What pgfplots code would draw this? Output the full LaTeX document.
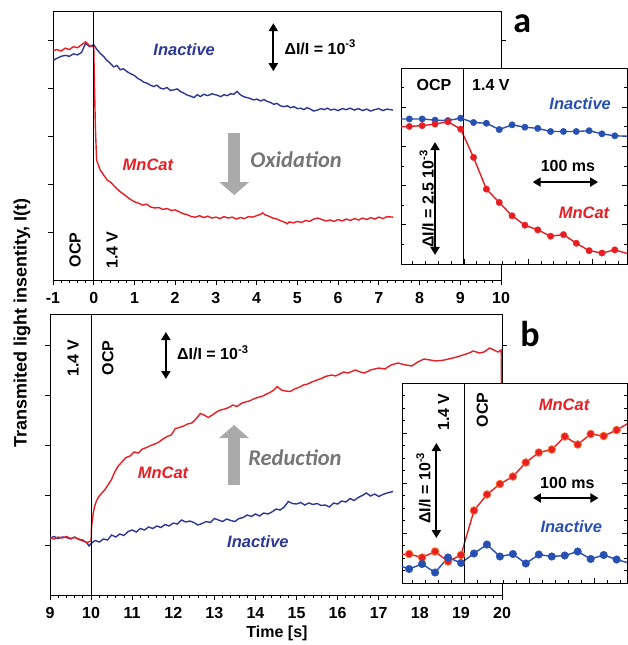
\documentclass[border=0pt]{standalone}
\usepackage{fontspec}
\setmainfont{Liberation Sans}
\newfontfamily\calibri{Carlito}
\usepackage{pgfplots}
\pgfplotsset{compat=1.18}
\usetikzlibrary{arrows.meta}
\definecolor{mred}{RGB}{232,30,36}
\definecolor{mblue}{RGB}{44,56,150}
\definecolor{iblue}{RGB}{40,80,178}
\definecolor{orng}{RGB}{245,110,40}
\definecolor{garrow}{RGB}{170,170,170}
\definecolor{gtext}{RGB}{118,118,118}
\newcommand\lab{\fontsize{16}{18}\selectfont\bfseries}
\newcommand\labi{\fontsize{16.5}{18}\selectfont\bfseries\itshape}
\newcommand\clb{\fontsize{22.5}{24}\selectfont\calibri\bfseries\itshape}
\tikzset{dbl/.style={line width=2pt,{Triangle[width=9pt,length=8pt]}-{Triangle[width=9pt,length=8pt]}},
 garr/.style={garrow,line width=12pt,-{Triangle[width=29pt,length=13pt]}}}
\pgfplotsset{
 mainax/.style={scale only axis, anchor=south west, clip=false,
  xtick pos=lower, ytick pos=both, tick align=outside,
  major tick length=5pt, minor tick length=3pt,
  tick style={black,line width=0.8pt}, axis line style={line width=0.9pt},
  minor x tick num=4, ytick={1,...,5}, yticklabels={},
  xticklabel style={font=\fontsize{16}{16}\selectfont\bfseries, yshift=-4pt},
  /pgf/number format/assume math mode=true},
 insax/.style={scale only axis, anchor=south west, clip=true,
  axis background/.style={fill=white},
  xtick pos=lower, ytick pos=both, tick align=inside,
  major tick length=5pt, minor tick length=3pt,
  tick style={black,line width=0.7pt}, axis line style={line width=0.9pt},
  xtick={0,100,200}, minor xtick={-80,-60,-40,-20,20,40,60,80,120,140,160,180,220,240},
  xticklabels={}, yticklabels={}},
 redl/.style={mred, line width=1.4pt, no marks},
 bluel/.style={mblue, line width=1.4pt, no marks}
}
\begin{document}
\begin{tikzpicture}
\useasboundingbox (0pt,0pt) rectangle (628pt,-645pt);
% ---------------- panel a main
\begin{axis}[mainax, at={(53pt,-280pt)}, width=448pt, height=269pt,
  xmin=-1, xmax=10, ymin=0, ymax=5.604, xtick={-1,...,10}]
\addplot[bluel] coordinates {
(-1.0,4.57)(-0.9,4.62)(-0.8,4.66)(-0.7,4.68)(-0.6,4.66)(-0.5,4.71)(-0.4,4.69)(-0.3,4.74)(-0.2,4.93)(-0.1,4.86)(0.0,4.90)
(0.08,4.80)(0.16,4.72)(0.24,4.66)(0.32,4.58)(0.4,4.52)(0.49,4.44)(0.57,4.47)(0.65,4.38)(0.73,4.40)(0.82,4.34)(0.9,4.30)(1.0,4.26)
(1.08,4.20)(1.15,4.17)(1.23,4.12)(1.31,4.10)(1.39,4.06)(1.47,4.03)(1.55,4.06)(1.63,4.00)(1.71,3.98)(1.8,4.01)(1.88,3.95)(1.96,3.96)
(2.05,3.98)(2.14,3.92)(2.22,3.89)(2.3,3.85)(2.38,3.83)(2.46,3.80)(2.54,3.86)(2.62,3.82)(2.7,3.87)(2.8,3.84)(2.9,3.88)(3.03,3.85)
(3.12,3.82)(3.2,3.86)(3.28,3.84)(3.36,3.88)(3.44,3.87)(3.52,3.93)(3.6,3.86)(3.68,3.82)(3.76,3.80)(3.85,3.78)(3.93,3.75)(4.0,3.77)
(4.1,3.73)(4.18,3.76)(4.26,3.72)(4.34,3.70)(4.42,3.66)(4.5,3.68)(4.58,3.63)(4.67,3.61)(4.75,3.63)(4.83,3.59)(4.92,3.61)(5.0,3.57)
(5.08,3.58)(5.16,3.55)(5.24,3.59)(5.32,3.56)(5.4,3.52)(5.49,3.54)(5.58,3.57)(5.66,3.55)(5.74,3.58)(5.82,3.54)(5.9,3.56)(6.0,3.53)
(6.1,3.57)(6.2,3.55)(6.3,3.58)(6.4,3.54)(6.5,3.57)(6.6,3.53)(6.7,3.56)(6.8,3.52)(6.9,3.55)(7.0,3.57)(7.1,3.53)(7.2,3.56)(7.35,3.54)};
\addplot[redl] coordinates {
(-1.0,4.78)(-0.9,4.80)(-0.8,4.77)(-0.7,4.83)(-0.6,4.80)(-0.5,4.86)(-0.4,4.84)(-0.3,4.90)(-0.2,4.96)(-0.1,4.88)(0.0,4.86)
(0.02,4.0)(0.04,3.2)(0.07,2.5)(0.12,2.38)(0.16,2.29)(0.25,2.18)(0.33,2.08)(0.41,2.04)(0.49,1.97)(0.57,1.90)(0.65,1.84)(0.73,1.79)
(0.82,1.73)(0.9,1.68)(1.0,1.63)(1.1,1.60)(1.2,1.56)(1.3,1.58)(1.4,1.52)(1.5,1.50)(1.6,1.51)(1.7,1.47)(1.8,1.49)(1.9,1.45)
(2.0,1.46)(2.1,1.42)(2.2,1.38)(2.3,1.36)(2.4,1.32)(2.5,1.31)(2.6,1.34)(2.7,1.30)(2.8,1.33)(2.9,1.29)(3.0,1.31)(3.1,1.28)
(3.2,1.32)(3.3,1.29)(3.4,1.31)(3.5,1.27)(3.6,1.30)(3.7,1.28)(3.8,1.32)(3.9,1.31)(4.0,1.34)(4.1,1.37)(4.15,1.40)(4.2,1.36)
(4.3,1.33)(4.4,1.29)(4.5,1.27)(4.6,1.23)(4.7,1.20)(4.75,1.17)(4.8,1.21)(4.9,1.19)(5.0,1.22)(5.1,1.20)(5.2,1.24)(5.3,1.22)
(5.4,1.27)(5.5,1.29)(5.6,1.26)(5.7,1.23)(5.8,1.25)(5.9,1.22)(6.0,1.26)(6.1,1.23)(6.2,1.27)(6.3,1.24)(6.4,1.28)(6.5,1.25)
(6.6,1.29)(6.7,1.26)(6.8,1.30)(6.9,1.27)(7.0,1.31)(7.1,1.28)(7.2,1.32)(7.35,1.31)};
\draw[line width=0.9pt] (axis cs:0,0) -- (axis cs:0,5.604);
\node[rotate=90] at (axis cs:-0.46,0.625) {\lab OCP};
\node[rotate=90] at (axis cs:0.45,0.625) {\lab 1.4 V};
\node[mblue] at (axis cs:2.22,4.79) {\labi Inactive};
\node[mred] at (axis cs:1.33,2.40) {\labi MnCat};
\draw[garr] (axis cs:3.45,3.06) -- (axis cs:3.45,1.77);
\node[gtext,anchor=west,inner sep=0pt] at (axis cs:3.84,2.5) {\clb Oxidation};
\draw[dbl] (axis cs:4.41,5.35) -- (axis cs:4.41,4.35);
\node[anchor=west,inner sep=0pt] at (axis cs:4.68,4.85) {\lab ΔI/I = 10\textsuperscript{-3}};
\node at (axis cs:10.52,5.33) {\fontsize{36}{36}\selectfont\calibri\bfseries a};
\end{axis}
% ---------------- panel a inset
\begin{axis}[insax, at={(401pt,-264pt)}, width=226pt, height=196pt,
  xmin=-98, xmax=254, ymin=0, ymax=5, ytick={0,...,5}, minor ytick={0.5,1.5,2.5,3.5,4.5}]
\addplot[iblue, line width=1.4pt] coordinates {(-98,3.70)(-85,3.70)(-65,3.70)(-45,3.67)(-25,3.66)(-5,3.72)(15,3.61)(35,3.59)(55,3.43)(75,3.55)(95,3.49)(115,3.46)(135,3.38)(155,3.38)(175,3.38)(195,3.40)(215,3.32)(235,3.27)(254,3.26)};
\addplot[iblue, only marks, mark=*, mark size=3.2pt] coordinates {(-85,3.70)(-65,3.70)(-45,3.67)(-25,3.66)(-5,3.72)(15,3.61)(35,3.59)(55,3.43)(75,3.55)(95,3.49)(115,3.46)(135,3.38)(155,3.38)(175,3.38)(195,3.40)(215,3.32)(235,3.27)};
\addplot[mred, line width=1.4pt] coordinates {(-98,3.50)(-85,3.51)(-65,3.53)(-45,3.57)(-25,3.63)(-5,3.44)(15,2.72)(35,1.91)(55,1.57)(75,1.23)(95,0.99)(115,0.87)(135,0.71)(155,0.75)(175,0.53)(195,0.34)(215,0.28)(235,0.36)(254,0.27)};
\addplot[mred, only marks, mark=*, mark size=3.2pt] coordinates {(-85,3.51)(-65,3.53)(-45,3.57)(-25,3.63)(-5,3.44)(15,2.72)(35,1.91)(55,1.57)(75,1.23)(95,0.99)(115,0.87)(135,0.71)(155,0.75)(175,0.53)(195,0.34)(215,0.28)(235,0.36)};
\draw[line width=0.9pt] (axis cs:0,0) -- (axis cs:0,5);
\node at (axis cs:-46.7,4.57) {\lab OCP};
\node at (axis cs:42,4.57) {\lab 1.4 V};
\node[iblue] at (axis cs:181,4.1) {\labi Inactive};
\node[mred] at (axis cs:187,1.3) {\labi MnCat};
\node at (axis cs:162,2.5) {\lab 100 ms};
\draw[dbl] (axis cs:107,2.09) -- (axis cs:209,2.09);
\draw[dbl] (axis cs:-45,3.11) -- (axis cs:-45,0.23);
\node[rotate=90] at (axis cs:-58,1.66) {\lab ΔI/I = 2.5 10\textsuperscript{-3}};
\end{axis}
% ---------------- panel b main
\begin{axis}[mainax, at={(50pt,-595pt)}, width=452pt, height=281pt,
  xmin=9, xmax=20, ymin=0, ymax=5.62, xtick={9,...,20}]
\addplot[bluel] coordinates {
(9.0,1.14)(9.1,1.17)(9.2,1.13)(9.3,1.16)(9.4,1.15)(9.5,1.12)(9.6,1.16)(9.7,1.11)(9.8,1.10)(9.9,1.04)(9.95,0.98)(10.0,1.03)
(10.1,1.09)(10.2,1.06)(10.3,1.12)(10.4,1.10)(10.5,1.20)(10.6,1.16)(10.7,1.22)(10.8,1.19)(10.9,1.27)(11.0,1.30)(11.1,1.26)(11.2,1.33)
(11.3,1.30)(11.4,1.36)(11.5,1.33)(11.6,1.38)(11.7,1.35)(11.8,1.41)(11.9,1.38)(12.0,1.44)(12.1,1.42)(12.2,1.50)(12.3,1.46)(12.4,1.48)
(12.5,1.45)(12.6,1.40)(12.7,1.43)(12.8,1.47)(12.9,1.45)(13.0,1.53)(13.1,1.50)(13.2,1.47)(13.3,1.52)(13.4,1.49)(13.5,1.47)(13.6,1.53)
(13.7,1.55)(13.8,1.60)(13.9,1.57)(14.0,1.62)(14.1,1.58)(14.2,1.64)(14.3,1.62)(14.4,1.66)(14.5,1.72)(14.6,1.70)(14.7,1.76)(14.8,1.87)
(14.9,1.83)(15.0,1.82)(15.1,1.85)(15.2,1.80)(15.3,1.84)(15.4,1.81)(15.5,1.83)(15.6,1.79)(15.7,1.80)(15.8,1.76)(15.9,1.84)(16.0,1.82)
(16.1,1.88)(16.2,1.86)(16.3,1.93)(16.4,1.89)(16.5,1.95)(16.6,1.99)(16.7,2.04)(16.8,1.98)(16.9,2.02)(17.0,1.97)(17.1,2.01)(17.2,2.04)(17.35,2.07)};
\addplot[redl] coordinates {
(9.0,1.15)(9.1,1.12)(9.2,1.16)(9.3,1.14)(9.4,1.17)(9.5,1.13)(9.6,1.15)(9.7,1.12)(9.8,1.08)(9.9,1.05)(10.0,1.08)
(10.01,1.36)(10.05,1.62)(10.08,1.76)(10.13,1.88)(10.18,1.96)(10.25,2.03)(10.33,2.10)(10.41,2.20)(10.49,2.30)(10.57,2.45)(10.65,2.57)
(10.75,2.66)(10.85,2.75)(10.95,2.78)(11.05,2.86)(11.15,2.84)(11.25,2.92)(11.35,2.95)(11.45,2.99)(11.55,3.02)(11.65,3.06)(11.75,3.12)
(11.85,3.17)(11.95,3.20)(12.05,3.33)(12.15,3.35)(12.25,3.38)(12.35,3.42)(12.45,3.44)(12.55,3.52)(12.66,3.63)(12.75,3.60)(12.85,3.55)
(12.95,3.60)(13.05,3.66)(13.15,3.70)(13.25,3.72)(13.35,3.75)(13.45,3.80)(13.55,3.77)(13.65,3.83)(13.75,3.86)(13.85,3.88)(13.95,3.92)
(14.05,3.95)(14.15,3.97)(14.25,4.01)(14.35,4.05)(14.45,4.10)(14.53,4.17)(14.63,4.10)(14.73,4.08)(14.85,4.07)(14.95,4.12)(15.05,4.15)
(15.17,4.20)(15.27,4.22)(15.37,4.26)(15.5,4.30)(15.6,4.33)(15.7,4.37)(15.85,4.40)(15.95,4.38)(16.05,4.42)(16.15,4.46)(16.25,4.44)
(16.43,4.50)(16.55,4.46)(16.65,4.44)(16.8,4.50)(17.0,4.54)(17.15,4.52)(17.3,4.60)(17.47,4.64)(17.6,4.61)(17.8,4.58)(17.95,4.66)
(18.1,4.72)(18.25,4.70)(18.4,4.68)(18.6,4.70)(18.75,4.73)(18.9,4.76)(19.05,4.80)(19.2,4.84)(19.3,4.88)(19.45,4.84)(19.56,4.86)
(19.7,4.94)(19.8,4.90)(19.9,4.86)(19.98,4.90)(20.0,1.2)};
\draw[line width=0.9pt] (axis cs:10,0) -- (axis cs:10,5.62);
\node[rotate=90] at (axis cs:9.56,4.74) {\lab 1.4 V};
\node[rotate=90] at (axis cs:10.41,4.74) {\lab OCP};
\draw[dbl] (axis cs:11.82,5.26) -- (axis cs:11.82,4.32);
\node[anchor=west,inner sep=0pt] at (axis cs:12.09,4.84) {\lab ΔI/I = 10\textsuperscript{-3}};
\node[mred] at (axis cs:11.75,2.44) {\labi MnCat};
\draw[garr] (axis cs:13.48,2.2) -- (axis cs:13.48,3.4);
\node[gtext,anchor=west,inner sep=0pt] at (axis cs:13.82,2.74) {\clb Reduction};
\node[mblue] at (axis cs:14.06,1.06) {\labi Inactive};
\node at (axis cs:20.68,5.22) {\fontsize{36}{36}\selectfont\calibri\bfseries b};
\end{axis}
% ---------------- panel b inset
\begin{axis}[insax, at={(402pt,-583pt)}, width=225pt, height=200pt,
  xmin=-96, xmax=251, ymin=0, ymax=4, ytick={0,...,4}, minor y tick num=3]
\addplot[mred, line width=1.4pt] coordinates {(-96,0.57)(-85,0.58)(-65,0.51)(-45,0.63)(-25,0.43)(-5,0.56)(15,1.45)(35,1.77)(55,1.98)(75,2.13)(95,2.41)(115,2.61)(135,2.67)(155,2.93)(175,2.77)(195,2.98)(215,2.94)(235,3.06)(251,3.18)};
\addplot[iblue, line width=1.4pt] coordinates {(-96,0.33)(-85,0.28)(-65,0.38)(-45,0.21)(-25,0.51)(-5,0.40)(15,0.59)(35,0.77)(55,0.53)(75,0.58)(95,0.39)(115,0.57)(135,0.53)(155,0.55)(175,0.63)(195,0.48)(215,0.56)(235,0.47)(251,0.41)};
\addplot[only marks, mark=*, mark size=3.8pt, mark options={fill=mred, draw=orng, line width=0.8pt}] coordinates {(-85,0.58)(-65,0.51)(-45,0.63)(-25,0.43)(-5,0.56)(15,1.45)(35,1.77)(55,1.98)(75,2.13)(95,2.41)(115,2.61)(135,2.67)(155,2.93)(175,2.77)(195,2.98)(215,2.94)(235,3.06)};
\addplot[only marks, mark=*, mark size=3.8pt, mark options={fill=iblue, draw=iblue}] coordinates {(-85,0.28)(-65,0.38)(-45,0.21)(-25,0.51)(-5,0.40)(15,0.59)(35,0.77)(55,0.53)(75,0.58)(95,0.39)(115,0.57)(135,0.53)(155,0.55)(175,0.63)(195,0.48)(215,0.56)(235,0.47)};
\draw[line width=0.9pt] (axis cs:0,0) -- (axis cs:0,4);
\node[rotate=90] at (axis cs:-32,3.42) {\lab 1.4 V};
\node[rotate=90] at (axis cs:28,3.46) {\lab OCP};
\node[mred] at (axis cs:154,3.56) {\labi MnCat};
\node at (axis cs:159,2.0) {\lab 100 ms};
\draw[dbl] (axis cs:106,1.7) -- (axis cs:207,1.7);
\node[iblue] at (axis cs:165,1.12) {\labi Inactive};
\draw[dbl] (axis cs:-43,2.8) -- (axis cs:-43,0.9);
\node[rotate=90] at (axis cs:-63,1.9) {\lab ΔI/I = 10\textsuperscript{-3}};
\end{axis}
\node[rotate=90] at (22pt,-323pt) {\fontsize{18}{18}\selectfont\bfseries Transmited light insentity, I(t)};
\node at (277pt,-633pt) {\lab Time [s]};
\end{tikzpicture}
\end{document}
